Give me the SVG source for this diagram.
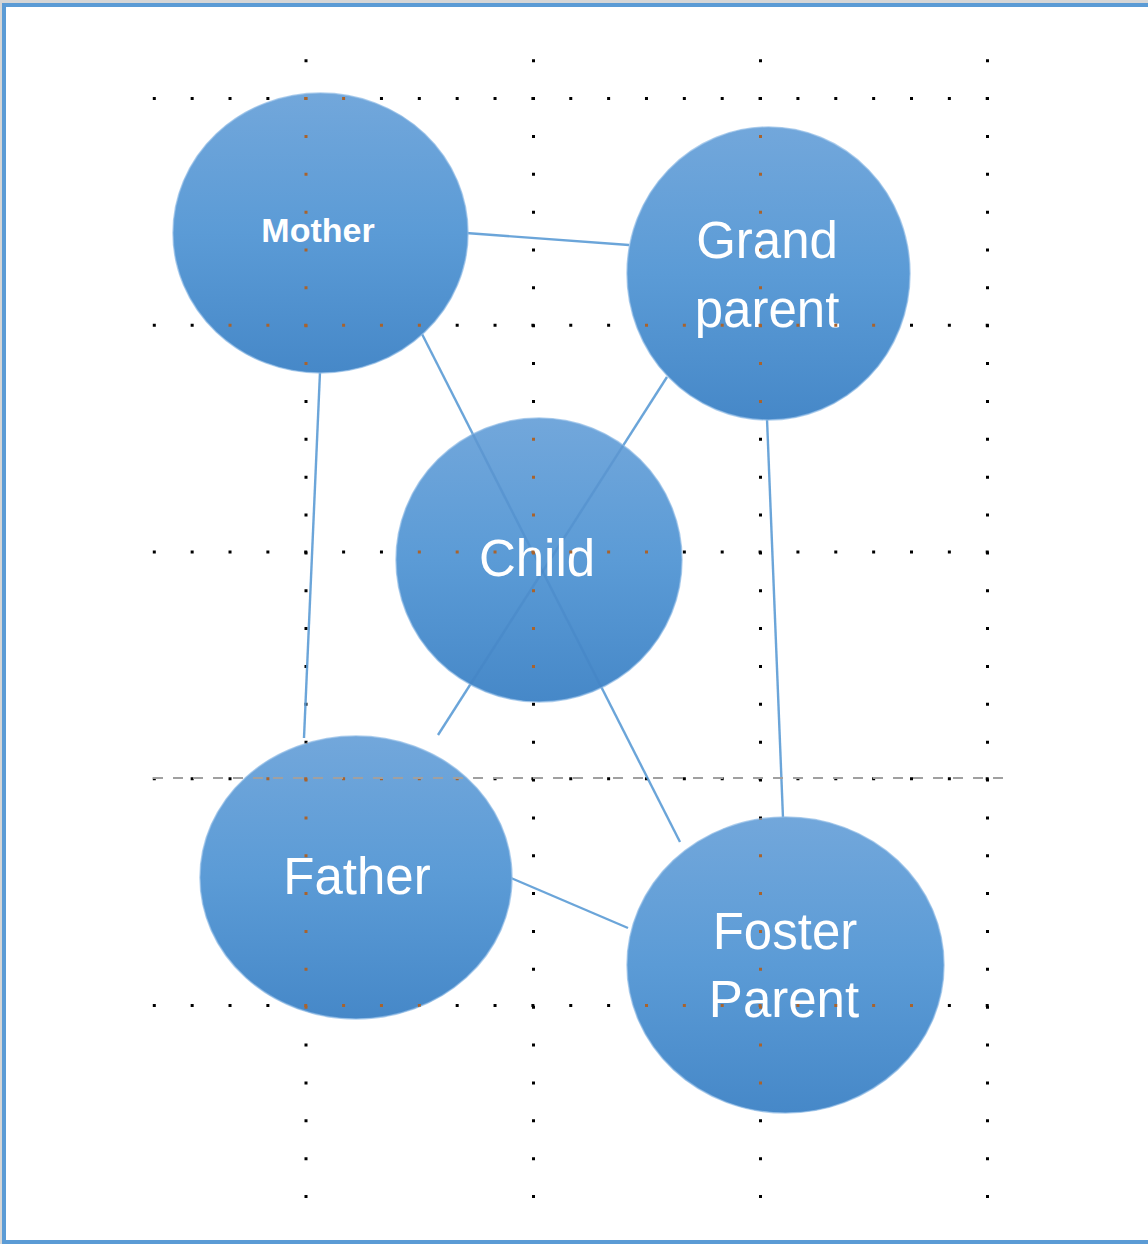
<svg xmlns="http://www.w3.org/2000/svg" xmlns:xlink="http://www.w3.org/1999/xlink" width="1148" height="1244" viewBox="0 0 1148 1244">
  <defs>
    <style>
      .frame-grey { fill: #d6d6d6; }
      .frame-blue { fill: #5b9bd5; }
      .node { fill: url(#nodeGrad); stroke: #8fbbe6; stroke-width: 1.5; stroke-opacity: 0.7; }
      .label { fill: #ffffff; font-family: "Liberation Sans", Arial, sans-serif; font-size: 51px; text-anchor: middle; }
      .label-small { fill: #ffffff; font-family: "Liberation Sans", Arial, sans-serif; font-size: 34px; font-weight: bold; text-anchor: middle; }
      .conn { stroke: #5b9bd5; stroke-width: 2.4; fill: none; stroke-opacity: 0.9; }
      .conn-over { stroke: #3f7fbf; stroke-width: 2.4; fill: none; stroke-opacity: 0.3; }
      .dotline { fill: none; stroke-width: 3; stroke-dasharray: 3 34.86; }
      .guide { stroke: #a0a0a0; stroke-width: 2.2; stroke-dasharray: 10 10; fill: none; }
    </style>
    <linearGradient id="nodeGrad" x1="0" y1="0" x2="0" y2="1">
      <stop offset="0" stop-color="#72a7db"/>
      <stop offset="0.5" stop-color="#5b9bd6"/>
      <stop offset="1" stop-color="#4688c8"/>
    </linearGradient>
    <g id="dots">
      <line class="dotline" x1="306" y1="59.2" x2="306" y2="1200"/>
      <line class="dotline" x1="533.5" y1="59.2" x2="533.5" y2="1200"/>
      <line class="dotline" x1="760.5" y1="59.2" x2="760.5" y2="1200"/>
      <line class="dotline" x1="987.5" y1="59.2" x2="987.5" y2="1200"/>
      <line class="dotline" x1="152.8" y1="98.5" x2="991" y2="98.5"/>
      <line class="dotline" x1="152.8" y1="325.3" x2="991" y2="325.3"/>
      <line class="dotline" x1="152.8" y1="552" x2="991" y2="552"/>
      <line class="dotline" x1="152.8" y1="778.7" x2="991" y2="778.7"/>
      <line class="dotline" x1="152.8" y1="1005.5" x2="991" y2="1005.5"/>
    </g>
    <clipPath id="nodeClip">
      <ellipse cx="320.5" cy="233" rx="147.5" ry="140"/>
      <ellipse cx="768.5" cy="273.5" rx="141.5" ry="146.5"/>
      <ellipse cx="539" cy="560" rx="143" ry="142"/>
      <ellipse cx="356" cy="877.5" rx="156" ry="141.5"/>
      <ellipse cx="785.5" cy="965" rx="158.5" ry="148"/>
    </clipPath>
    <clipPath id="childClip">
      <ellipse cx="539" cy="560" rx="143" ry="142"/>
    </clipPath>
  </defs>

  <rect x="0" y="0" width="1148" height="1244" fill="#ffffff"/>

  <g id="frame">
    <rect class="frame-grey" x="0" y="0" width="1148" height="3"/>
    <rect class="frame-grey" x="0" y="0" width="2" height="1244"/>
    <rect class="frame-blue" x="2" y="3" width="1146" height="4"/>
    <rect class="frame-blue" x="2" y="3" width="4" height="1241"/>
    <rect class="frame-blue" x="2" y="1240" width="1146" height="4"/>
  </g>

  <g id="grid-dots-under" stroke="#000000">
    <use xlink:href="#dots" href="#dots"/>
  </g>

  <g id="connectors">
    <line class="conn" x1="466" y1="233" x2="629" y2="245"/>
    <line class="conn" x1="422" y1="334" x2="680" y2="842"/>
    <line class="conn" x1="667" y1="377" x2="438" y2="735"/>
    <line class="conn" x1="320" y1="372" x2="304" y2="738"/>
    <line class="conn" x1="767" y1="419" x2="783" y2="818"/>
    <line class="conn" x1="511" y1="878" x2="628" y2="928"/>
  </g>

  <g id="node-mother">
    <ellipse class="node" cx="320.5" cy="233" rx="147.5" ry="140"/>
    <text class="label-small" x="318" y="242">Mother</text>
  </g>

  <g id="node-grandparent">
    <ellipse class="node" cx="768.5" cy="273.5" rx="141.5" ry="146.5"/>
    <text class="label" x="767" y="258">Grand</text>
    <text class="label" x="767" y="327">parent</text>
  </g>

  <g id="node-child">
    <ellipse class="node" cx="539" cy="560" rx="143" ry="142"/>
    <g clip-path="url(#childClip)">
      <line class="conn-over" x1="422" y1="334" x2="680" y2="842"/>
      <line class="conn-over" x1="667" y1="377" x2="438" y2="735"/>
    </g>
    <text class="label" x="537" y="576">Child</text>
  </g>

  <g id="node-father">
    <ellipse class="node" cx="356" cy="877.5" rx="156" ry="141.5"/>
    <text class="label" x="357" y="894">Father</text>
  </g>

  <g id="node-fosterparent">
    <ellipse class="node" cx="785.5" cy="965" rx="158.5" ry="148"/>
    <text class="label" x="785" y="949">Foster</text>
    <text class="label" x="784" y="1017">Parent</text>
  </g>

  <g id="grid-dots-over" stroke="#a9632c" clip-path="url(#nodeClip)">
    <use xlink:href="#dots" href="#dots"/>
  </g>

  <line id="guide-line" class="guide" x1="153" y1="778" x2="1010" y2="778"/>
</svg>
